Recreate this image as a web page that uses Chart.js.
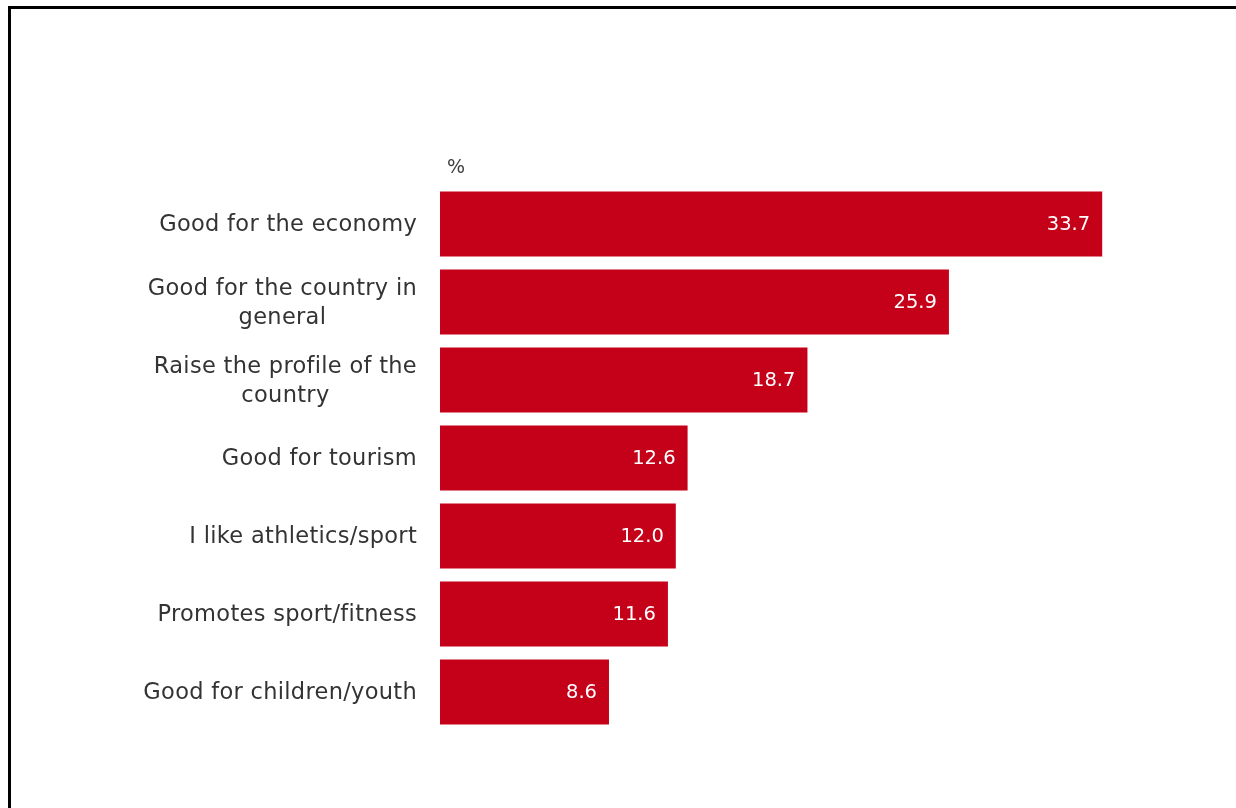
<!DOCTYPE html>
<html>
<head>
<meta charset="utf-8">
<script src="https://cdn.jsdelivr.net/npm/chart.js@4/dist/chart.umd.min.js"></script>
<style>
  html, body { margin: 0; padding: 0; background: #fff; }
  #wrap { position: relative; width: 1236px; height: 808px; overflow: hidden; }
  #frame { position: absolute; left: 8px; top: 6px; width: 1300px; height: 900px;
           border-top: 3px solid #000; border-left: 3px solid #000; box-sizing: border-box; }
  canvas { position: absolute; left: 0; top: 0; }
</style>
</head>
<body>
<div id="wrap">
  <div id="frame"></div>
  <canvas id="c" width="1236" height="808"></canvas>
</div>
<script>
// Reasons given, share of respondents (%)
const categories = [
  ["Good for the economy"],
  ["Good for the country in", "general"],
  ["Raise the profile of the", "country"],
  ["Good for tourism"],
  ["I like athletics/sport"],
  ["Promotes sport/fitness"],
  ["Good for children/youth"]
];
const shares = [33.7, 25.9, 18.7, 12.6, 12.0, 11.6, 8.6];
const unitLabel = "%";

const FONT = "'DejaVu Sans', Verdana, sans-serif";
const TEXT = "#333333";
const BAR = "#C50019";

// Draws the category text, the unit caption and the values inside the bars
const labelsPlugin = {
  id: 'barLabels',
  afterDatasetsDraw(chart) {
    const ctx = chart.ctx;
    const yScale = chart.scales.y;
    const area = chart.chartArea;
    ctx.save();

    // category labels: block right-aligned, lines centred within the block
    ctx.font = "22.5px " + FONT;
    ctx.letterSpacing = "0.3px";
    ctx.fillStyle = TEXT;
    ctx.textBaseline = 'middle';
    ctx.textAlign = 'center';
    const lineH = 29;
    const rightEdge = area.left - 23;
    categories.forEach((lines, i) => {
      const yc = yScale.getPixelForValue(i) + 1.5;
      const w = Math.max(...lines.map(l => ctx.measureText(l).width));
      const xc = rightEdge - w / 2;
      const y0 = yc - (lines.length - 1) * lineH / 2;
      lines.forEach((l, k) => ctx.fillText(l, xc, y0 + k * lineH));
    });

    // unit caption above the bars
    ctx.letterSpacing = "0px";
    ctx.font = "19px " + FONT;
    ctx.textAlign = 'left';
    ctx.fillStyle = "#404040";
    ctx.fillText(unitLabel, area.left + 7, area.top - 17);

    // values inside bar ends
    ctx.font = "19.5px " + FONT;
    ctx.fillStyle = "#ffffff";
    ctx.textAlign = 'right';
    const meta = chart.getDatasetMeta(0);
    meta.data.forEach((bar, i) => {
      ctx.fillText(shares[i].toFixed(1), bar.x - 12, bar.y + 1);
    });
    ctx.restore();
  }
};

new Chart(document.getElementById('c'), {
  type: 'bar',
  data: {
    labels: categories,
    datasets: [{
      data: shares,
      backgroundColor: BAR,
      borderWidth: 0,
      barPercentage: 0.835,
      categoryPercentage: 1.0
    }]
  },
  options: {
    indexAxis: 'y',
    responsive: false,
    animation: false,
    events: [],
    layout: { padding: { left: 440, right: 10, top: 185, bottom: 77 } },
    plugins: { legend: { display: false }, tooltip: { enabled: false } },
    scales: {
      x: { display: false, min: 0, max: 40 },
      y: { display: false }
    }
  },
  plugins: [labelsPlugin]
});
</script>
</body>
</html>
